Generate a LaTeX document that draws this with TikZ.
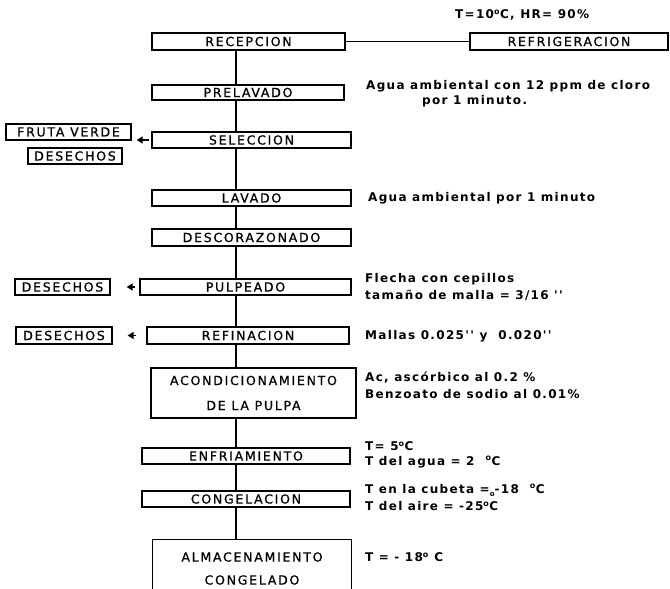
\documentclass[tikz,border=0pt]{standalone}
\usepackage{fontspec}
\setmainfont{DejaVu Sans}
\newfontfamily\boxfont{DejaVu Sans}[LetterSpace=14,FakeBold=0.8]
\newfontfamily\notefont{DejaVu Sans}[LetterSpace=11]
\usetikzlibrary{arrows.meta}
\newcommand{\dg}{\textsuperscript{o}}
\tikzset{
  stage/.style={draw, line width=1.3pt, inner sep=0pt, minimum height=16pt,
    font=\boxfont\fontsize{12.5}{14}\selectfont},
  flow/.style={line width=1.3pt},
  waste/.style={line width=1.3pt, -{Triangle[length=6pt,width=7pt]}},
  note/.style={anchor=west, inner sep=0pt,
    font=\notefont\bfseries\fontsize{12}{14}\selectfont}
}
\begin{document}
\begin{tikzpicture}[x=1pt,y=-1pt]
\useasboundingbox (0,0) rectangle (670,589);
\fill[white] (0,0) rectangle (670,589);

% process stages
\node[stage, minimum width=193pt, minimum height=17pt] (rec) at (248.5,41.5) {RECEPCION};
\node[stage, minimum width=198pt, minimum height=17pt] (ref) at (569,41.5) {REFRIGERACION};
\node[stage, minimum width=192pt, minimum height=15pt] (pre) at (248,92.5) {PRELAVADO};
\node[stage, minimum width=199pt] (sel) at (251.5,140) {SELECCION};
\node[stage, minimum width=125pt] (fv) at (68.5,132) {FRUTA VERDE};
\node[stage, minimum width=94pt] (des1) at (75,156) {DESECHOS};
\node[stage, minimum width=199pt] (lav) at (251.5,198) {LAVADO};
\node[stage, minimum width=199pt, minimum height=17pt] (dco) at (251.5,237.5) {DESCORAZONADO};
\node[stage, minimum width=211pt] (pul) at (245.5,287) {PULPEADO};
\node[stage, minimum width=95pt] (des2) at (62.5,287) {DESECHOS};
\node[stage, minimum width=202pt, minimum height=17pt] (fin) at (248,335.5) {REFINACION};
\node[stage, minimum width=96pt, minimum height=17pt] (des3) at (64,335.5) {DESECHOS};
\node[stage, minimum width=205pt, minimum height=50pt, align=center,
  font=\boxfont\fontsize{12.5}{25}\selectfont] (aco) at (253.5,393)
  {ACONDICIONAMIENTO\\DE LA PULPA};
\node[stage, minimum width=208pt] (enf) at (246,456) {ENFRIAMIENTO};
\node[stage, minimum width=208pt] (con) at (246,499) {CONGELACION};

% storage box, open at the lower edge
\node[minimum width=198pt, minimum height=49pt, inner sep=0pt] (alm) at (252,564.5) {};
\draw[flow] (alm.south west) -- (alm.north west) -- (alm.north east) -- (alm.south east);
\node[font=\boxfont\fontsize{12.5}{14}\selectfont, inner sep=0pt] (almA) at (252,557) {ALMACENAMIENTO};
\node[font=\boxfont\fontsize{12.5}{14}\selectfont, inner sep=0pt] (almB) at (252,580) {CONGELADO};

% main line
\draw[flow] (rec.east) -- (ref.west);
\draw[flow] (rec.south -| 236,0) -- (pre.north -| 236,0);
\draw[flow] (pre.south -| 236,0) -- (sel.north -| 236,0);
\draw[flow] (sel.south -| 236,0) -- (lav.north -| 236,0);
\draw[flow] (lav.south -| 236,0) -- (dco.north -| 236,0);
\draw[flow] (dco.south -| 236,0) -- (pul.north -| 236,0);
\draw[flow] (pul.south -| 236,0) -- (fin.north -| 236,0);
\draw[flow] (fin.south -| 236,0) -- (aco.north -| 236,0);
\draw[flow] (aco.south -| 236,0) -- (enf.north -| 236,0);
\draw[flow] (enf.south -| 236,0) -- (con.north -| 236,0);
\draw[flow] (con.south -| 236,0) -- (alm.north -| 236,0);

% by-products
\draw[waste, shorten <=2pt, shorten >=5pt] (sel.west) -- (sel.west -| fv.east);
\draw[waste, shorten <=4pt, shorten >=16pt] (pul.west) -- (pul.west -| des2.east);
\draw[waste, shorten <=10pt, shorten >=15pt] (fin.west) -- (fin.west -| des3.east);

% process conditions
\node[note] (n0) at (455,15) {T=10\dg C, HR= 90\%};
\node[note] (n1) at (366,86) {Agua ambiental con 12 ppm de cloro};
\node[note] (n2) at (422,101) {por 1 minuto.};
\node[note] (n3) at (368,198) {Agua ambiental por 1 minuto};
\node[note] (n4) at (365,279) {Flecha con cepillos};
\node[note] (n5) at (365,295) {tamaño de malla = 3/16 ''};
\node[note] (n6) at (365,336) {Mallas 0.025'' y\ \ 0.020''};
\node[note] (n7) at (365,378) {Ac, ascórbico al 0.2 \%};
\node[note] (n8) at (365,394) {Benzoato de sodio al 0.01\%};
\node[note] (n9) at (365,446) {T= 5\dg C};
\node[note] (n10) at (365,462) {T del agua = 2\ \ \dg C};
\node[note] (n11) at (365,490) {T en la cubeta =\raisebox{-3pt}{\scriptsize o}-18\ \ \dg C};
\node[note] (n12) at (365,506) {T del aire = -25\dg C};
\node[note] (n13) at (365,557) {T = - 18\dg\ C};
\end{tikzpicture}
\end{document}
